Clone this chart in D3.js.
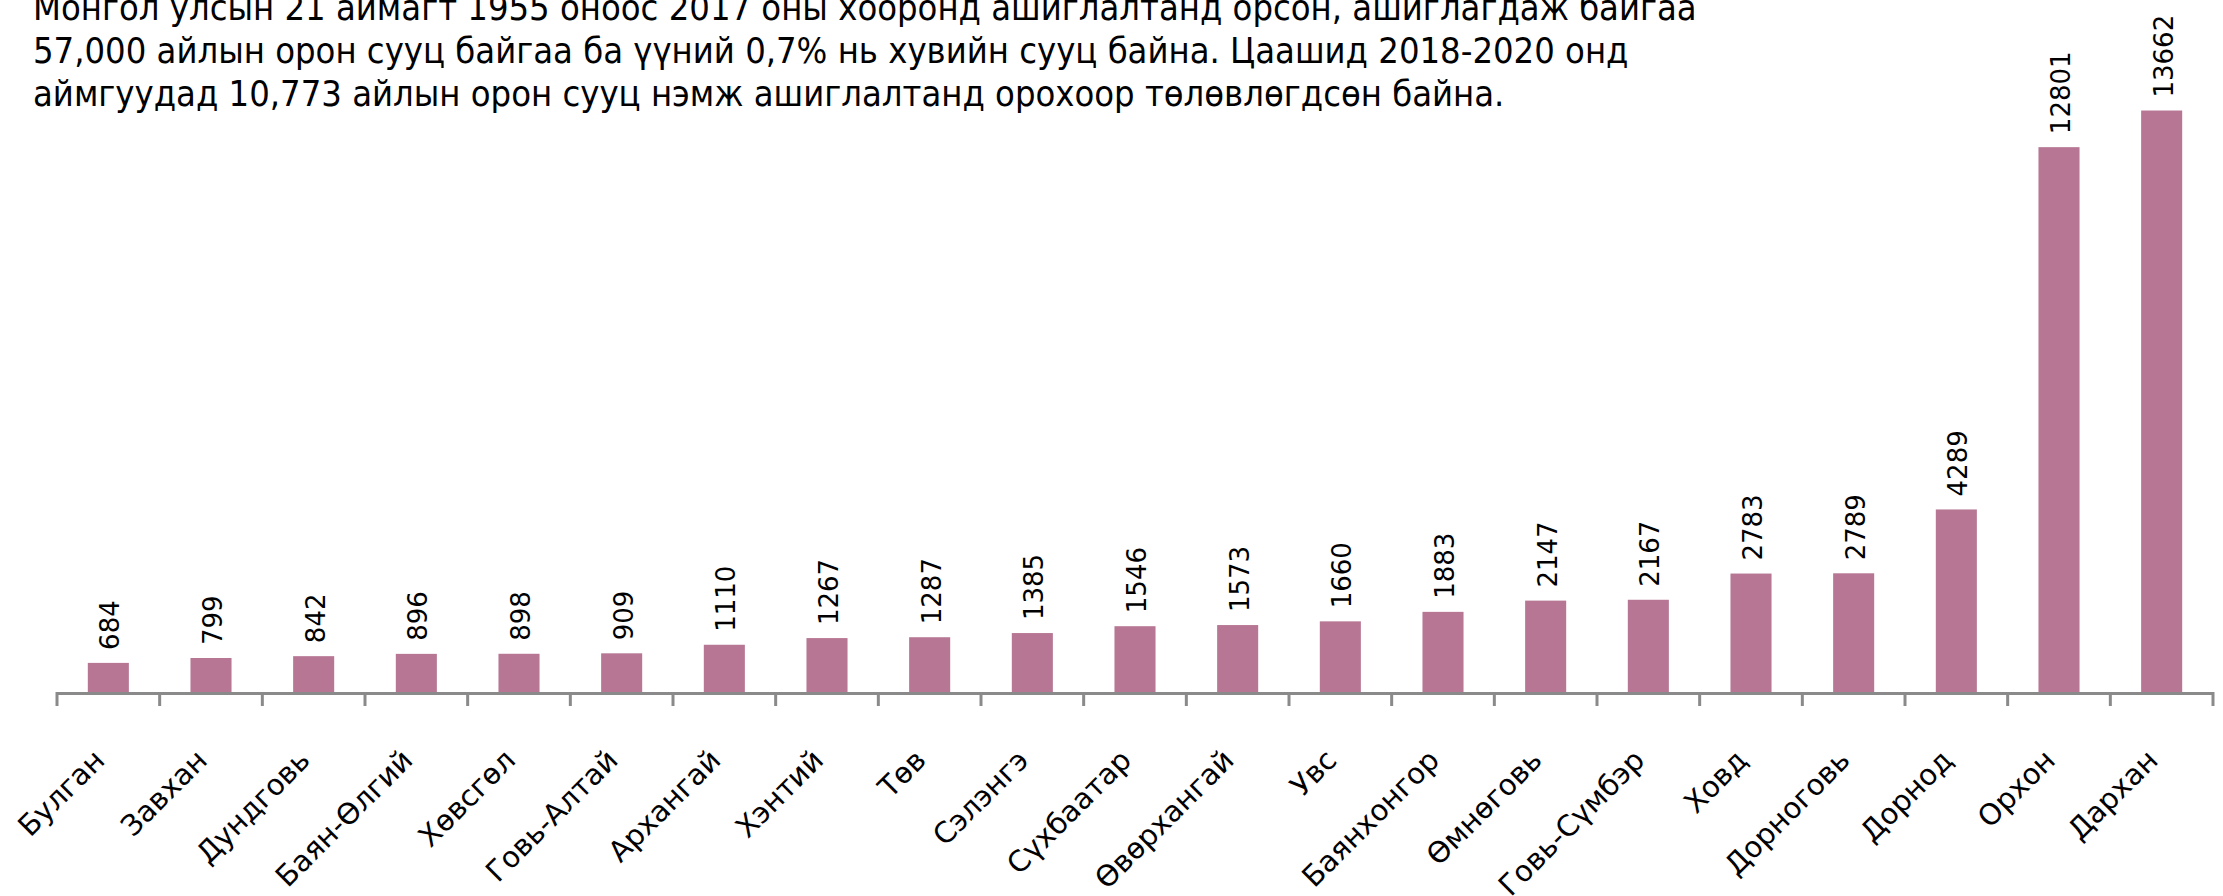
<!DOCTYPE html>
<html>
<head>
<meta charset="utf-8">
<script src="https://cdn.jsdelivr.net/npm/d3@7"></script>
<style>
  html, body { margin: 0; padding: 0; background: #fff; }
</style>
</head>
<body>
<div id="chart"></div>
<script>
const categories = ['Булган', 'Завхан', 'Дундговь', 'Баян-Өлгий', 'Хөвсгөл', 'Говь-Алтай',
  'Архангай', 'Хэнтий', 'Төв', 'Сэлэнгэ', 'Сүхбаатар', 'Өвөрхангай', 'Увс', 'Баянхонгор',
  'Өмнөговь', 'Говь-Сүмбэр', 'Ховд', 'Дорноговь', 'Дорнод', 'Орхон', 'Дархан'];
const values = [684, 799, 842, 896, 898, 909, 1110, 1267, 1287, 1385, 1546,
  1573, 1660, 1883, 2147, 2167, 2783, 2789, 4289, 12801, 13662];
const titleLines = [
  'Монгол улсын 21 аймагт 1955 оноос 2017 оны хооронд ашиглалтанд орсон, ашиглагдаж байгаа',
  '57,000 айлын орон сууц байгаа ба үүний 0,7% нь хувийн сууц байна. Цаашид 2018-2020 онд',
  'аймгуудад 10,773 айлын орон сууц нэмж ашиглалтанд орохоор төлөвлөгдсөн байна.',
];

const w = 2223; // width
const h = 896; // height
const axisY = 692; // baseline of the bars

const svg = d3.select('#chart')
    .append('svg')
    .attr('width', w)
    .attr('height', h)
    .style('display', 'block');

svg.append('rect')
    .attr('width', w)
    .attr('height', h)
    .attr('fill', '#fff');

// slots = one cell per category, bars sit in the middle 40%
const slot = d3.scaleBand()
    .domain(categories)
    .range([57, 2213]);

const x = d3.scaleBand()
    .domain(categories)
    .range([57, 2213])
    .paddingInner(0.6)
    .paddingOuter(0.3);

const y = d3.scaleLinear()
    .domain([0, 16000])
    .range([axisY, 11]);

const data = categories.map((c, i) => ({label: c, value: values[i]}));

// title text, top lines partly cut off by the frame
svg.append('g')
    .selectAll('text')
    .data(titleLines)
    .enter()
    .append('text')
    .attr('x', 33)
    .attr('y', (d, i) => 20 + i * 43)
    .attr('font-family', '"DejaVu Sans Condensed", "DejaVu Sans", sans-serif')
    .attr('font-size', 36)
    .attr('fill', '#000')
    .text((d) => d);

// bars
svg.append('g')
    .selectAll('rect')
    .data(data)
    .enter()
    .append('rect')
    .attr('x', (d) => x(d.label))
    .attr('y', (d) => y(d.value))
    .attr('width', x.bandwidth())
    .attr('height', (d) => axisY - y(d.value))
    .attr('fill', '#b77794');

// value labels, rotated upright
svg.append('g')
    .selectAll('text')
    .data(data)
    .enter()
    .append('text')
    .attr('transform', (d) => 'translate(' + (x(d.label) + x.bandwidth() / 2 + 2) + ',' +
      (y(d.value) - 13) + ') rotate(-90)')
    .attr('dy', '0.35em')
    .attr('font-family', '"DejaVu Sans", Verdana, sans-serif')
    .attr('font-size', 26)
    .attr('fill', '#000')
    .text((d) => d.value);

// x axis line and tick marks at slot edges
const axis = svg.append('g')
    .attr('stroke', '#8a8a8a')
    .attr('stroke-width', 3);

axis.append('line')
    .attr('x1', slot.range()[0])
    .attr('x2', slot.range()[1])
    .attr('y1', axisY + 1.5)
    .attr('y2', axisY + 1.5);

const edges = categories.map((c) => slot(c)).concat([slot.range()[1]]);
axis.selectAll('line.tick')
    .data(edges)
    .enter()
    .append('line')
    .attr('class', 'tick')
    .attr('x1', (d) => d)
    .attr('x2', (d) => d)
    .attr('y1', axisY)
    .attr('y2', axisY + 14);

// category labels at 45 degrees
svg.append('g')
    .selectAll('text')
    .data(categories)
    .enter()
    .append('text')
    .attr('transform', (d) => 'translate(' + (slot(d) + slot.bandwidth() / 2 - 2) + ',' +
      762 + ') rotate(-45)')
    .attr('text-anchor', 'end')
    .attr('font-family', '"DejaVu Sans", Verdana, sans-serif')
    .attr('font-size', 29)
    .attr('fill', '#000')
    .text((d) => d);
</script>
</body>
</html>
